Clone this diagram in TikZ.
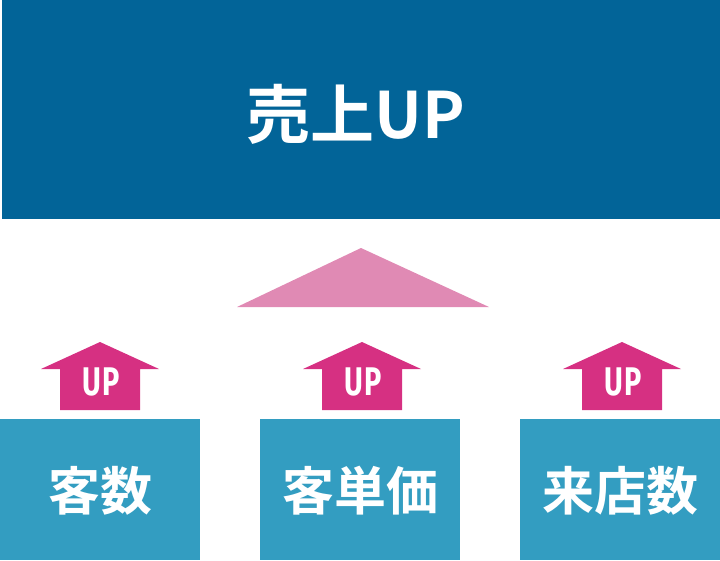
\documentclass[tikz,border=0pt]{standalone}
\usepackage{fontspec}
\newfontfamily\cjk{Noto Sans CJK JP}[UprightFont=* Bold]
\newfontfamily\upfont{Fira Sans}[UprightFont=* Bold]
\definecolor{topblue}{RGB}{2,100,152}
\definecolor{boxblue}{RGB}{51,157,193}
\definecolor{upmag}{RGB}{214,48,130}
\definecolor{trip}{RGB}{224,138,180}
\tikzset{
  topbox/.style={fill=topblue, draw=none, text=white, font=\cjk\fontsize{64}{64}\selectfont, inner sep=0pt},
  lowbox/.style={fill=boxblue, draw=none, text=white, font=\cjk\fontsize{52}{52}\selectfont, inner sep=0pt, minimum width=200pt, minimum height=141pt},
  uparrow/.style={fill=upmag, draw=none},
  uplabel/.style={text=white, font=\upfont\fontsize{40}{40}\selectfont, inner sep=0pt},
  tri/.style={fill=trip, draw=none}
}
\newcommand{\myuparrow}[1]{%
  \fill[uparrow] (#1-40,410) -- (#1-40,369) -- (#1-59,369) -- (#1,342) -- (#1+59,369) -- (#1+40,369) -- (#1+40,410) -- cycle;
}
\begin{document}
\begin{tikzpicture}[x=1pt,y=-1pt]
\useasboundingbox (0,0) rectangle (720,560);
\node[topbox, minimum width=718pt, minimum height=219pt] (top) at (361,109.5) {};
\node[text=white, font=\cjk\fontsize{64}{64}\selectfont, inner sep=0pt] (title) at (356,114) {売上UP};
\fill[tri] (237,307) -- (361,248) -- (489,307) -- cycle;
\node[inner sep=0pt] (apex) at (361,248) {};
\myuparrow{100}
\myuparrow{362}
\myuparrow{622}
\node[uplabel] (up1) at (101,382) {\scalebox{0.72}[1]{U\kern2pt P}};
\node[uplabel] (up2) at (363,382) {\scalebox{0.72}[1]{U\kern2pt P}};
\node[uplabel] (up3) at (623,382) {\scalebox{0.72}[1]{U\kern2pt P}};
\node[lowbox] (b1) at (100,489.5) {};
\node[lowbox] (b2) at (360,489.5) {};
\node[lowbox] (b3) at (620,489.5) {};
\node[text=white, font=\cjk\fontsize{52}{52}\selectfont, inner sep=0pt] (t1) at (100,491) {客数};
\node[text=white, font=\cjk\fontsize{52}{52}\selectfont, inner sep=0pt] (t2) at (360,491) {客単価};
\node[text=white, font=\cjk\fontsize{52}{52}\selectfont, inner sep=0pt] (t3) at (620,491) {来店数};
\end{tikzpicture}
\end{document}
